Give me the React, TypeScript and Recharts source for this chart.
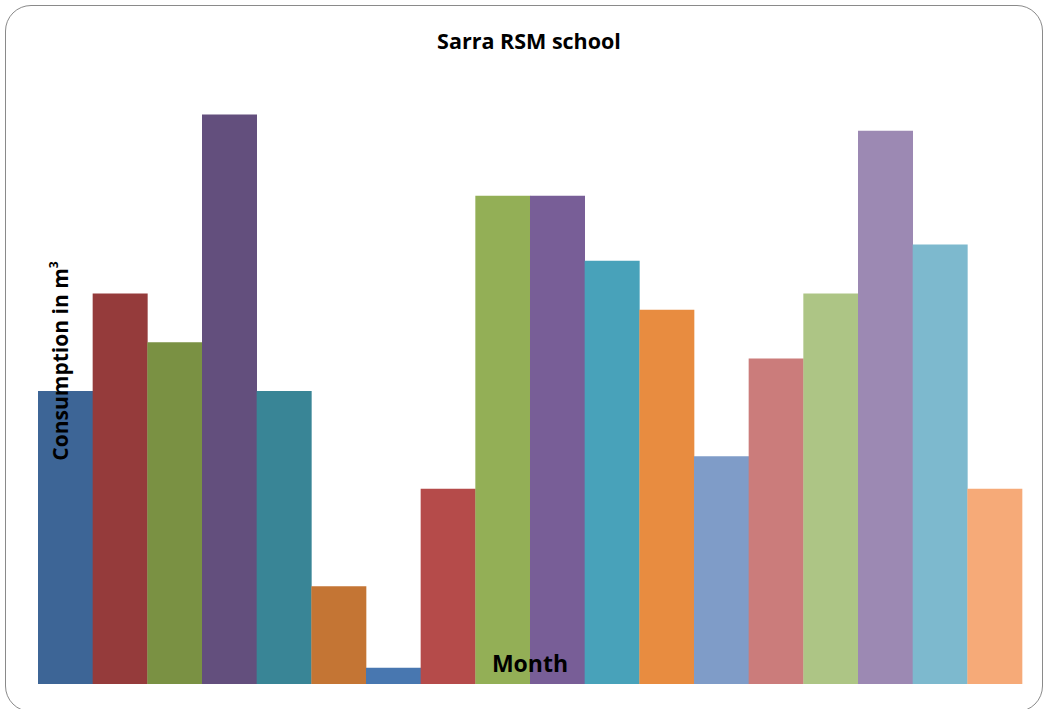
import React from 'react'
import { Bar, BarChart, Cell, XAxis, YAxis } from 'recharts'

// monthly consumption, m³
const months = [
  'M1', 'M2', 'M3', 'M4', 'M5', 'M6', 'M7', 'M8', 'M9',
  'M10', 'M11', 'M12', 'M13', 'M14', 'M15', 'M16', 'M17', 'M18',
]
const consumption = [18, 24, 21, 35, 18, 6, 1, 12, 30, 30, 26, 23, 14, 20, 24, 34, 27, 12]

const colors = [
  '#3d6596', '#953b3b', '#7a9143', '#634f7d', '#398596', '#c47534',
  '#4877b0', '#b54b4a', '#93af56', '#785e97', '#48a2ba', '#e88c40',
  '#7f9cc8', '#cb7c7b', '#adc585', '#9c89b3', '#7db9ce', '#f6aa78',
]

const data = months.map((m, i) => ({ month: m, value: consumption[i] }))

const W = 1046
const H = 709
const font = '"Open Sans", "Liberation Sans", sans-serif'

export default function App() {
  return (
    <div style={{ position: 'relative', width: W, height: H, background: '#fff', overflow: 'hidden' }}>
      <style>{'body { margin: 0; }'}</style>
      <div
        style={{
          position: 'absolute',
          left: 5,
          top: 5,
          width: W - 8,
          height: H - 2,
          border: '1.5px solid #8a8a8a',
          borderRadius: 26,
          boxSizing: 'border-box',
        }}
      />
      <BarChart
        width={W}
        height={H}
        data={data}
        margin={{ top: 33, right: 24, bottom: 25, left: 38 }}
        barCategoryGap={0}
        style={{ position: 'absolute', left: 0, top: 0 }}
      >
        <XAxis dataKey="month" hide />
        <YAxis domain={[0, 40]} hide />
        <Bar dataKey="value" isAnimationActive={false}>
          {data.map((d, i) => (
            <Cell key={d.month} fill={colors[i % colors.length]} />
          ))}
        </Bar>
      </BarChart>
      <svg width={W} height={H} style={{ position: 'absolute', left: 0, top: 0, pointerEvents: 'none' }}>
        <text x={529} y={49} textAnchor="middle" fontFamily={font} fontWeight="bold" fontSize={21.5} fill="#000">
          Sarra RSM school
        </text>
        <text
          x={0}
          y={0}
          transform="translate(68 361) rotate(-90)"
          textAnchor="middle"
          fontFamily={font}
          fontWeight="bold"
          fontSize={21}
          fill="#000"
        >
          Consumption in m
          <tspan fontSize={12} dy={-10}>3</tspan>
        </text>
        <text x={530} y={672} textAnchor="middle" fontFamily={font} fontWeight="bold" fontSize={23} fill="#000">
          Month
        </text>
      </svg>
    </div>
  )
}
